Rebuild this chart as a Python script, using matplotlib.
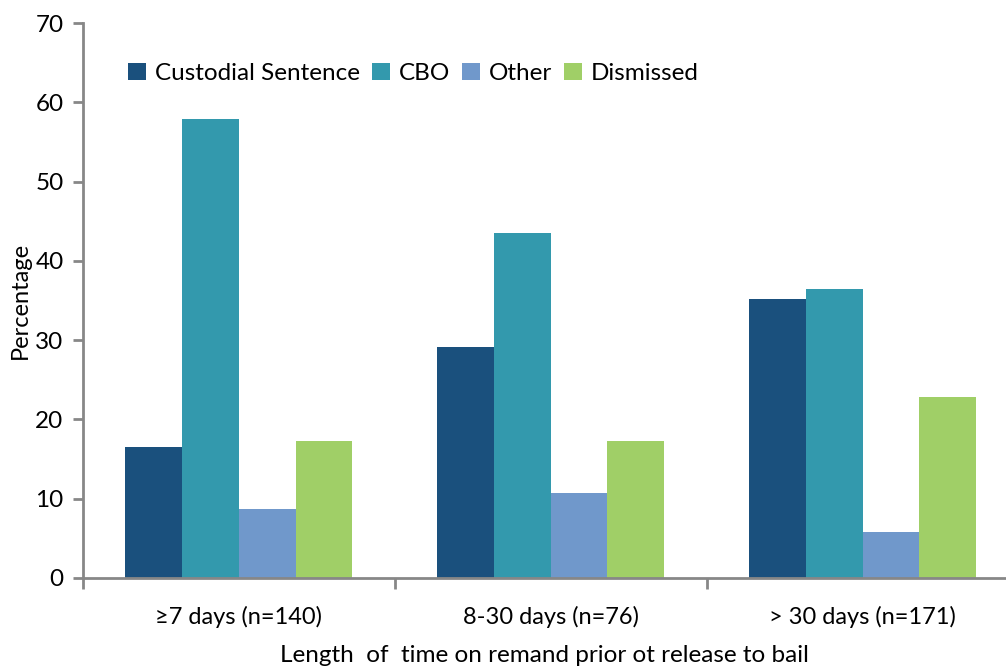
import numpy as np
import matplotlib
matplotlib.use("Agg")
import matplotlib.pyplot as plt

plt.rcParams['font.family'] = ['Lato', 'DejaVu Sans']

categories = ['≥7 days (n=140)', '8-30 days (n=76)', '> 30 days (n=171)']
series = ['Custodial Sentence', 'CBO', 'Other', 'Dismissed']
custodial = [16.5, 29.1, 35.2]
cbo = [57.9, 43.5, 36.4]
other = [8.7, 10.7, 5.8]
dismissed = [17.3, 17.3, 22.8]
colors = ['#1a507d', '#3399ad', '#7098cb', '#a0cf67']

values = [custodial, cbo, other, dismissed]

fig = plt.figure(figsize=(10.06, 6.68), dpi=100)
ax = fig.add_axes([83/1006, 1 - 578/668, 1 - 83/1006, (578 - 23)/668])

x = np.arange(len(categories))
w = 0.182
for i, (name, vals) in enumerate(zip(series, values)):
    ax.bar(x + (i - 1.5) * w, vals, w, color=colors[i], label=name)

ax.set_ylim(0, 70)
ax.set_xlim(-0.5, 2.46)
ax.set_yticks(range(0, 71, 10))
ax.set_xticks(x)
ax.set_xticklabels(categories)
ax.set_xticks([-0.5, 0.5, 1.5], minor=True)
ax.tick_params(axis='x', which='major', length=0, pad=20, labelsize=17)
ax.tick_params(axis='x', which='minor', length=8, width=2, color='#878787', direction='out')
ax.tick_params(axis='y', length=7, width=2, color='#878787', labelsize=17.5, pad=7)

for s in ['top', 'right']:
    ax.spines[s].set_visible(False)
for s in ['left', 'bottom']:
    ax.spines[s].set_color('#878787')
    ax.spines[s].set_linewidth(2)

ax.set_ylabel('Percentage', fontsize=17)
ax.yaxis.set_label_coords(-0.056, 0.5)
ax.set_xlabel('Length  of  time on remand prior ot release to bail', fontsize=17.5, labelpad=12)

ax.legend(loc='upper left', bbox_to_anchor=(0.025, 0.968), ncol=4, frameon=False,
          fontsize=17.5, handlelength=0.75, handleheight=0.7, handletextpad=0.35,
          columnspacing=0.5)

plt.savefig('out.png', dpi=100)
